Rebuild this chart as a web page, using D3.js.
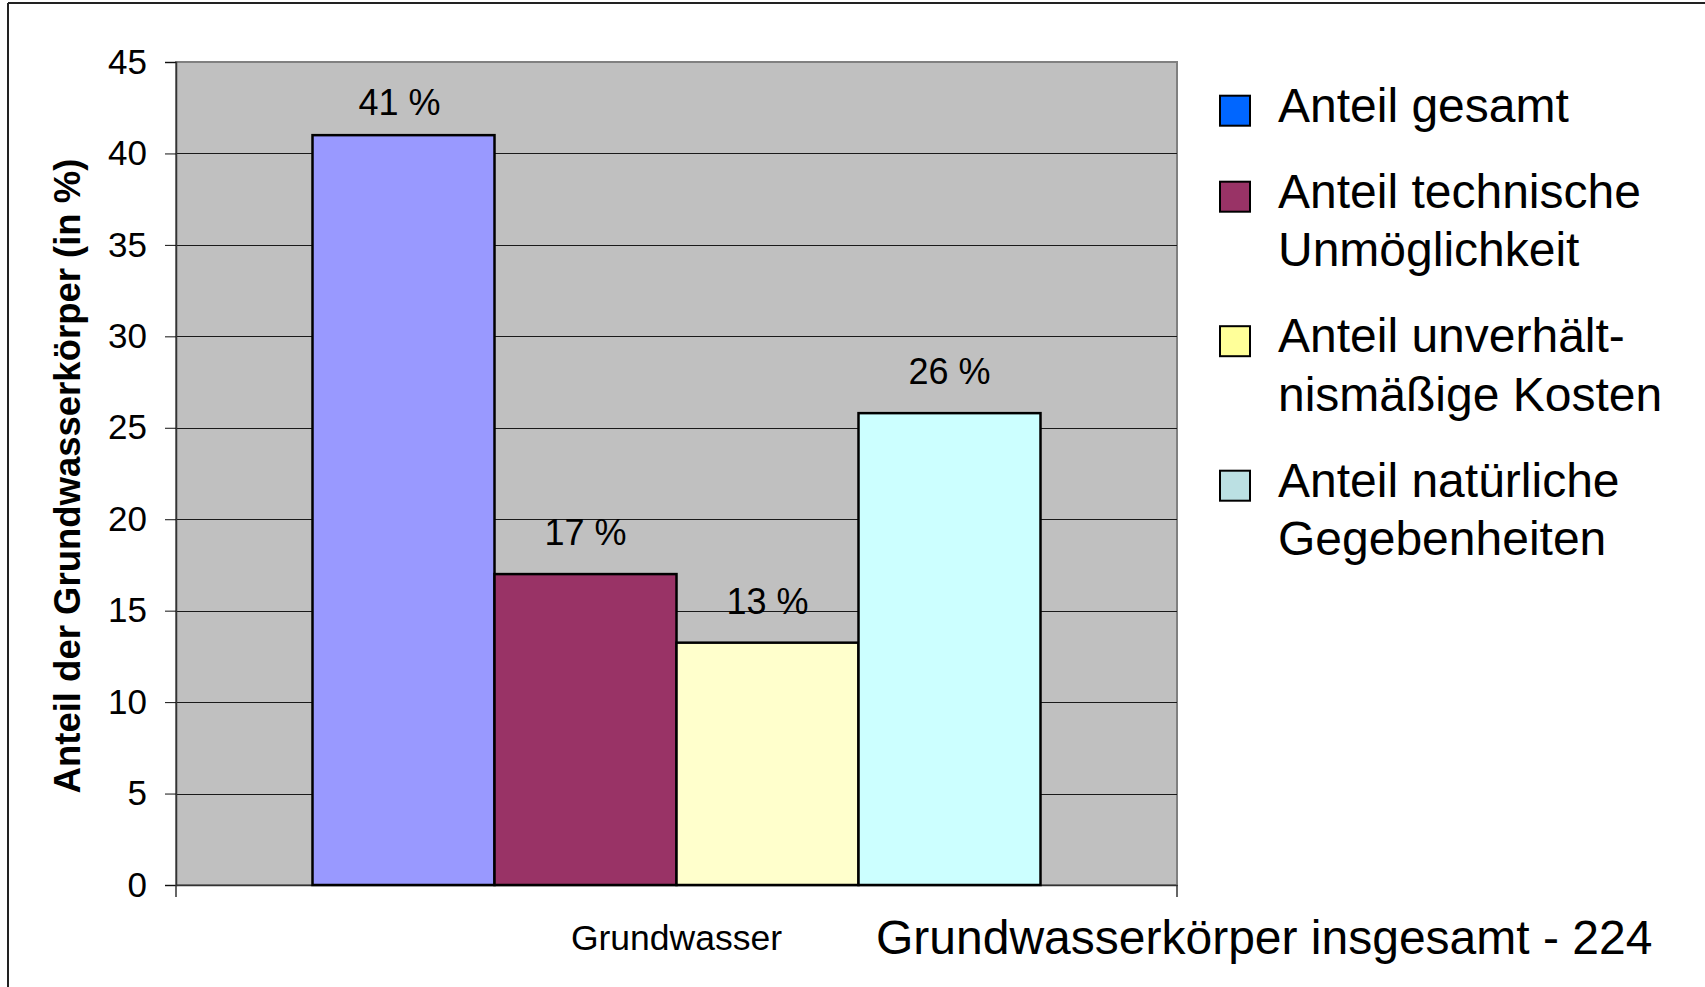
<!DOCTYPE html>
<html>
<head>
<meta charset="utf-8">
<script src="https://cdn.jsdelivr.net/npm/d3@7"></script>
<style>
  html, body { margin: 0; padding: 0; background: #fff; }
  svg { display: block; font-family: "Liberation Sans", Arial, Helvetica, sans-serif; }
</style>
</head>
<body>
<svg id="chart" width="1705" height="987"></svg>
<script>
// Share of groundwater bodies (in %) per exemption reason
const categories = ["Grundwasser"];
const seriesNames = [
  "Anteil gesamt",
  "Anteil technische Unmöglichkeit",
  "Anteil unverhältnismäßige Kosten",
  "Anteil natürliche Gegebenheiten"
];
const seriesValues = [41.0, 17.0, 13.25, 25.8];
const legendLines = [
  ["Anteil gesamt"],
  ["Anteil technische", "Unmöglichkeit"],
  ["Anteil unverhält-", "nismäßige Kosten"],
  ["Anteil natürliche", "Gegebenheiten"]
];
const barColors = ["#9999FF", "#993366", "#FFFFCC", "#CCFFFF"];
const legendColors = ["#0066FF", "#993366", "#FFFF99", "#BBE0E3"];
const yTicks = [0, 5, 10, 15, 20, 25, 30, 35, 40, 45];
const yTitle = "Anteil der Grundwasserkörper (in %)";
const chartTitle = "Grundwasserkörper insgesamt - 224";

const svg = d3.select("#chart");

// outer frame (top and left edges)
svg.append("line").attr("x1", 8).attr("y1", 3).attr("x2", 1705).attr("y2", 3)
  .attr("stroke", "#222").attr("stroke-width", 2);
svg.append("line").attr("x1", 8).attr("y1", 3).attr("x2", 8).attr("y2", 987)
  .attr("stroke", "#222").attr("stroke-width", 2);

const plot = { left: 176, right: 1177, top: 62, bottom: 885 };

const y = d3.scaleLinear().domain([0, 45]).range([plot.bottom, plot.top]);
const x0 = d3.scaleBand().domain(categories)
  .range([plot.left, plot.right]).paddingInner(0).paddingOuter(0.1875);
const x1 = d3.scaleBand().domain(seriesNames)
  .range([0, x0.bandwidth()]).padding(0);

// plot area
svg.append("rect")
  .attr("x", plot.left).attr("y", plot.top)
  .attr("width", plot.right - plot.left).attr("height", plot.bottom - plot.top)
  .attr("fill", "#C0C0C0").attr("stroke", "#808080").attr("stroke-width", 2);

// horizontal gridlines
svg.append("g").selectAll("line").data(yTicks.filter(t => t > 0 && t < 45)).join("line")
  .attr("x1", plot.left).attr("x2", plot.right)
  .attr("y1", d => Math.round(y(d)) + 0.5).attr("y2", d => Math.round(y(d)) + 0.5)
  .attr("stroke", "#1a1a1a").attr("stroke-width", 1);

// y axis
const yAxis = svg.append("g").attr("transform", `translate(${plot.left},0)`)
  .call(d3.axisLeft(y).tickValues(yTicks).tickSize(11).tickPadding(18).tickFormat(d3.format("d")));
yAxis.select(".domain").attr("stroke", "#333").attr("stroke-width", 1.5);
yAxis.selectAll(".tick line").attr("stroke", "#111");
yAxis.selectAll("text").attr("font-size", 35).attr("fill", "#000")
  .attr("font-family", "'Liberation Sans', Arial, sans-serif");

// x axis
const xAxis = svg.append("g").attr("transform", `translate(0,${plot.bottom})`)
  .call(d3.axisBottom(x0).tickSize(0).tickPadding(40));
xAxis.select(".domain").attr("stroke", "#333").attr("stroke-width", 1.5);
xAxis.selectAll("text").attr("font-size", 35.5).attr("fill", "#000")
  .attr("font-family", "'Liberation Sans', Arial, sans-serif");
// end ticks at the category boundaries
svg.append("g").selectAll("line").data([plot.left, plot.right]).join("line")
  .attr("x1", d => d).attr("x2", d => d)
  .attr("y1", plot.bottom).attr("y2", plot.bottom + 12)
  .attr("stroke", "#333").attr("stroke-width", 1.5);

// bars
const group = svg.append("g");
categories.forEach(cat => {
  const g = group.append("g").attr("transform", `translate(${x0(cat)},0)`);
  g.selectAll("rect").data(seriesValues).join("rect")
    .attr("x", (d, i) => x1(seriesNames[i]))
    .attr("y", d => y(d))
    .attr("width", x1.bandwidth())
    .attr("height", d => y(0) - y(d))
    .attr("fill", (d, i) => barColors[i])
    .attr("stroke", "#000").attr("stroke-width", 2.5);

  // value labels, kept clear of the top edge of the plot area
  g.selectAll("text").data(seriesValues).join("text")
    .attr("x", (d, i) => x1(seriesNames[i]) + x1.bandwidth() / 2 - (i === 0 ? 4 : 0))
    .attr("y", d => Math.max(y(d) - 29, plot.top + 53))
    .attr("text-anchor", "middle")
    .attr("font-size", 36).attr("fill", "#000")
    .text(d => d3.format(".0f")(d) + " %");
});

// y axis title
svg.append("text")
  .attr("transform", `translate(80,476) rotate(-90)`)
  .attr("text-anchor", "middle")
  .attr("font-size", 36.5).attr("font-weight", "bold").attr("fill", "#000")
  .text(yTitle);

// chart title below the axis
svg.append("text")
  .attr("x", 876).attr("y", 954)
  .attr("font-size", 48).attr("fill", "#000")
  .text(chartTitle);

// legend
const legend = svg.append("g");
const lineH = 58.5, entryGap = 27.5;
let baseline = 121.7;
legendLines.forEach((lines, i) => {
  legend.append("rect")
    .attr("x", 1220).attr("y", baseline - 26)
    .attr("width", 30).attr("height", 30)
    .attr("fill", legendColors[i]).attr("stroke", "#000").attr("stroke-width", 2);
  const t = legend.append("text").attr("font-size", 48).attr("fill", "#000");
  lines.forEach((ln, j) => {
    t.append("tspan").attr("x", 1278).attr("y", baseline + j * lineH).text(ln);
  });
  baseline += lines.length * lineH + entryGap;
});
</script>
</body>
</html>
